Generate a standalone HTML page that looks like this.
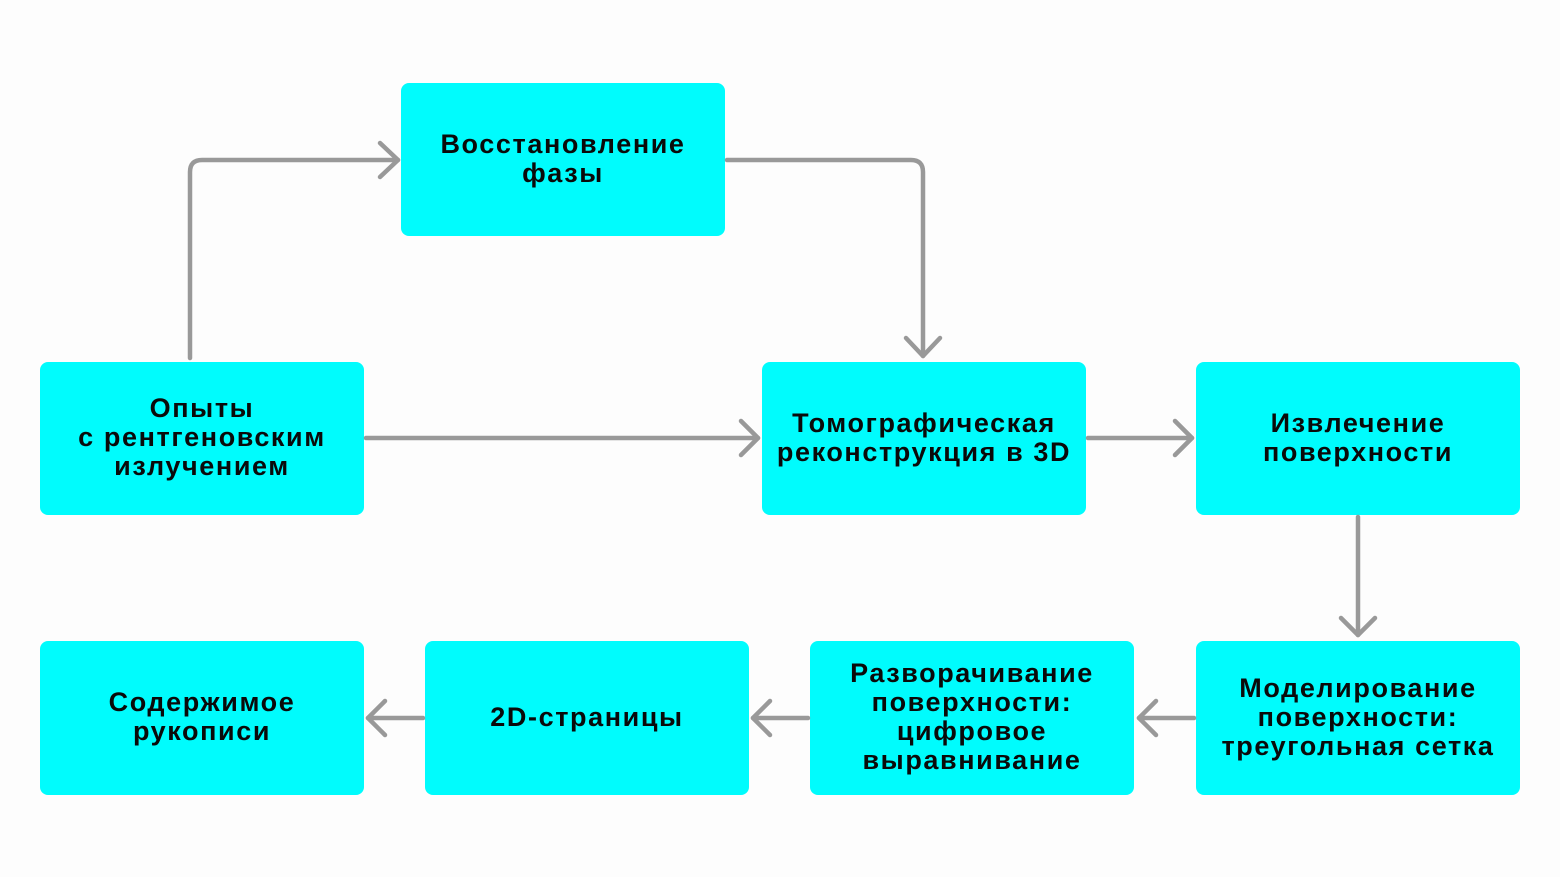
<!DOCTYPE html>
<html><head><meta charset="utf-8"><style>
html,body{margin:0;padding:0;background:#fdfdfd}
svg{display:block}
text{font-family:"Liberation Sans",sans-serif;font-weight:bold;font-size:27px;letter-spacing:1.6px;fill:#0a0a0a;text-anchor:middle}
</style></head><body>
<svg width="1560" height="877" viewBox="0 0 1560 877">
<rect width="1560" height="877" fill="#fdfdfd"/>
<g fill="#00fcfd">
<rect x="401" y="83" width="324" height="153" rx="8"/>
<rect x="40" y="362" width="324" height="153" rx="8"/>
<rect x="762" y="362" width="324" height="153" rx="8"/>
<rect x="1196" y="362" width="324" height="153" rx="8"/>
<rect x="40" y="641" width="324" height="154" rx="8"/>
<rect x="425" y="641" width="324" height="154" rx="8"/>
<rect x="810" y="641" width="324" height="154" rx="8"/>
<rect x="1196" y="641" width="324" height="154" rx="8"/>
</g>
<g fill="none" stroke="#999" stroke-width="4.5" stroke-linecap="round" stroke-linejoin="round">
<path d="M190 358 V172 Q190 160 202 160 H398"/><path d="M380 143 L398 160 L380 177"/>
<path d="M727 160 H911 Q923 160 923 172 V356"/><path d="M906 338 L923 356 L940 338"/>
<path d="M366 438 H758"/><path d="M741 421 L758 438 L741 455"/>
<path d="M1088 438 H1192"/><path d="M1175 421 L1192 438 L1175 455"/>
<path d="M1358 517 V635"/><path d="M1341 618 L1358 635 L1375 618"/>
<path d="M1194 718 H1139"/><path d="M1156 701 L1139 718 L1156 735"/>
<path d="M808 718 H753"/><path d="M770 701 L753 718 L770 735"/>
<path d="M423 718 H368"/><path d="M385 701 L368 718 L385 735"/>
</g>
<text x="563" y="153">Восстановление</text>
<text x="563" y="182">фазы</text>
<text x="202" y="417">Опыты</text>
<text x="202" y="446">с рентгеновским</text>
<text x="202" y="475">излучением</text>
<text x="924" y="432">Томографическая</text>
<text x="924" y="461">реконструкция в 3D</text>
<text x="1358" y="432">Извлечение</text>
<text x="1358" y="461">поверхности</text>
<text x="202" y="711">Содержимое</text>
<text x="202" y="740">рукописи</text>
<text x="587" y="726">2D-страницы</text>
<text x="972" y="682">Разворачивание</text>
<text x="972" y="711">поверхности:</text>
<text x="972" y="740">цифровое</text>
<text x="972" y="769">выравнивание</text>
<text x="1358" y="697">Моделирование</text>
<text x="1358" y="726">поверхности:</text>
<text x="1358" y="755">треугольная сетка</text>
</svg>
</body></html>
